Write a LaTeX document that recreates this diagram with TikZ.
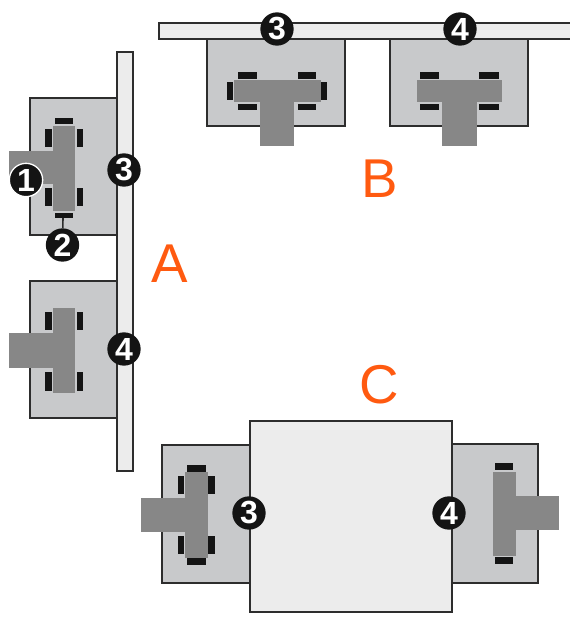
\documentclass[tikz,border=0pt]{standalone}
\usepackage{fontspec}
\setmainfont{Liberation Sans}
\usepackage{xcolor}
\definecolor{deskgray}{RGB}{200, 201, 203}
\definecolor{chairgray}{RGB}{135, 135, 135}
\definecolor{wallgray}{RGB}{236, 236, 236}
\definecolor{edgegray}{RGB}{45, 45, 45}
\definecolor{wheelblack}{RGB}{20, 20, 20}
\definecolor{letterorange}{RGB}{255, 90, 16}

\begin{document}
\begin{tikzpicture}[
        x=0.75pt, y=-0.75pt,
        wall/.style={draw=edgegray, fill=wallgray, line width=1pt},
        desk/.style={draw=edgegray, fill=deskgray, line width=1pt},
        chair/.style={fill=chairgray},
        wheel/.style={fill=wheelblack},
        num/.style={circle, fill=wheelblack, text=white, inner sep=0pt, minimum size=25pt, font=\fontsize{24}{24}\selectfont\bfseries},
        letter/.style={text=letterorange, inner sep=0pt, font=\fontsize{41}{41}\selectfont}
      ]
        \useasboundingbox (0,0) rectangle (570,632);
        \fill[white] (0,0) rectangle (570,632);

        % layout A
        \draw[wall] (117,52) rectangle (133,471);
        \draw[desk] (30,98) rectangle (117,235);
        \draw[desk] (30,281) rectangle (117,418);
        \fill[wheel] (55,118) rectangle (73,124);
        \fill[wheel] (45,129) rectangle (52,147);
        \fill[wheel] (77,129) rectangle (83,147);
        \fill[wheel] (45,188) rectangle (52,206);
        \fill[wheel] (77,188) rectangle (83,206);
        \fill[wheel] (55,213) rectangle (73,218);
        \fill[chair] (53,126) rectangle (75,211);
        \fill[chair] (9,151) rectangle (53,184);
        \fill[wheel] (45,312) rectangle (52,330);
        \fill[wheel] (77,312) rectangle (83,330);
        \fill[wheel] (45,372) rectangle (52,391);
        \fill[wheel] (77,372) rectangle (83,391);
        \fill[chair] (53,308) rectangle (75,393);
        \fill[chair] (9,333) rectangle (53,368);

        \coordinate (wheelA) at (63,218);
        \node[num, draw=white, line width=1pt] (oneA) at (26,180) {1};
        \node[num] (twoA) at (62.5,245) {2};
        \node[num] (threeA) at (124,170) {3};
        \node[num] (fourA) at (124,349) {4};
        \draw[edgegray, line width=1.2pt] (wheelA) -- (twoA);
        \node[letter] (labelA) at (170,264) {A};

        % layout B
        \draw[wall] (159,23) rectangle (575,39);
        \draw[desk] (207,39) rectangle (345,126);
        \draw[desk] (390,39) rectangle (528,126);
        \fill[wheel] (238,72) rectangle (257,79);
        \fill[wheel] (298,72) rectangle (316,79);
        \fill[wheel] (238,104) rectangle (257,110);
        \fill[wheel] (298,104) rectangle (316,110);
        \fill[wheel] (227,82) rectangle (233,100);
        \fill[wheel] (321,82) rectangle (327,100);
        \fill[chair] (234,80) rectangle (321,102);
        \fill[chair] (260,102) rectangle (294,146);
        \fill[wheel] (420,72) rectangle (439,79);
        \fill[wheel] (479,72) rectangle (499,79);
        \fill[wheel] (420,104) rectangle (439,110);
        \fill[wheel] (479,104) rectangle (499,110);
        \fill[chair] (417,80) rectangle (502,102);
        \fill[chair] (442,102) rectangle (477,146);

        \node[num] (threeB) at (277,29) {3};
        \node[num] (fourB) at (460,29) {4};
        \node[letter] (labelB) at (380,179) {B};

        % layout C
        \draw[wall] (250,421) rectangle (452,612);
        \draw[desk] (162,445) rectangle (250,583);
        \draw[desk] (452,444) rectangle (538,583);
        \fill[wheel] (187,465) rectangle (206,472);
        \fill[wheel] (187,558) rectangle (206,565);
        \fill[wheel] (178,476) rectangle (184,494);
        \fill[wheel] (208,476) rectangle (215,494);
        \fill[wheel] (178,536) rectangle (184,554);
        \fill[wheel] (208,536) rectangle (215,554);
        \fill[chair] (185,472) rectangle (208,558);
        \fill[chair] (141,498) rectangle (185,532);
        \fill[wheel] (495,463) rectangle (513,470);
        \fill[wheel] (495,557) rectangle (513,564);
        \fill[chair] (493,472) rectangle (516,556);
        \fill[chair] (516,496) rectangle (559,530);

        \node[num] (threeC) at (249,513) {3};
        \node[num] (fourC) at (449,513) {4};
        \node[letter] (labelC) at (379,385) {C};
      \end{tikzpicture}
\end{document}
